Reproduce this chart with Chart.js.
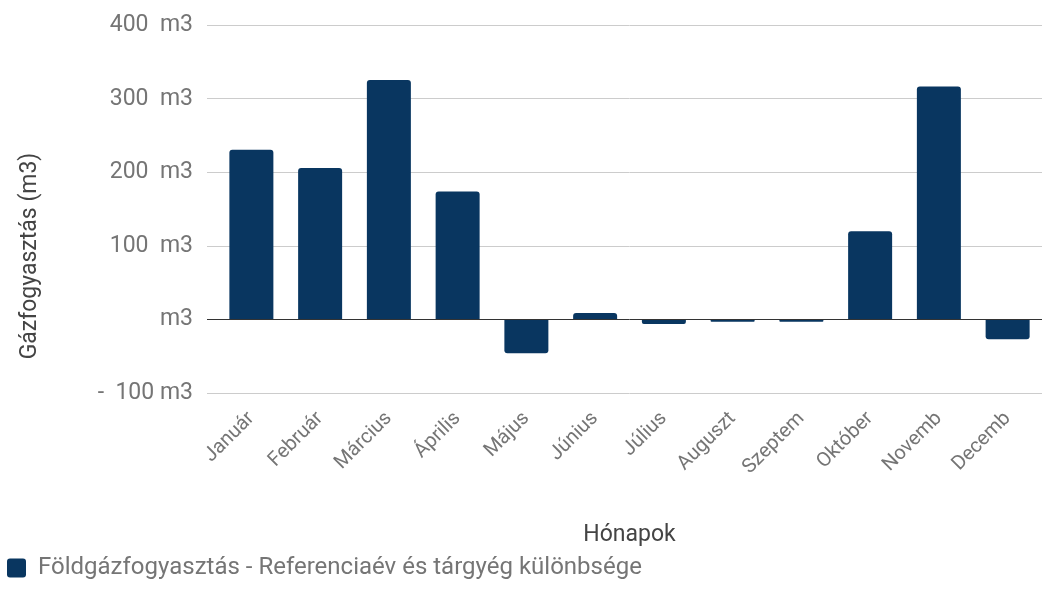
<!DOCTYPE html>
<html>
<head>
<meta charset="utf-8">
<script src="https://cdn.jsdelivr.net/npm/chart.js@4/dist/chart.umd.min.js"></script>
<style>
  html, body { margin: 0; padding: 0; background: #fff; }
  #wrap { width: 1042px; height: 590px; position: relative; }
</style>
</head>
<body>
<div id="wrap"><canvas id="chart"></canvas></div>
<script>
// ---------- 数据 ----------
const months = ['Január','Február','Március','Április','Május','Június','Július','Auguszt','Szeptem','Október','Novemb','Decemb'];
const diffM3 = [231, 206, 326, 174, -46, 9, -6, -3, -3, 120, 317, -27];
const yTicks = [-100, 0, 100, 200, 300, 400];
const seriesName = 'Földgázfogyasztás - Referenciaév és tárgyég különbsége';
const yTitle = 'Gázfogyasztás (m3)';
const xTitle = 'Hónapok';

const grey = '#757575';
const dark = '#444';
const font = (size) => ({ family: 'Roboto, "Noto Sans", sans-serif', size });

// 会计格式的刻度: "400  m3", "m3", "-  100 m3"
const fmtTick = (v) => {
  if (v === 0) return 'm3';
  if (v < 0) return '-  ' + Math.abs(v) + ' m3';
  return v + '  m3';
};

// y 轴标题：Google 图表里它比绘图区中心偏下一点，这里自己画
const yTitlePlugin = {
  id: 'yTitle',
  afterDraw(chart) {
    const ctx = chart.ctx;
    ctx.save();
    ctx.translate(30, 256);
    ctx.rotate(-Math.PI / 2);
    ctx.font = '23px Roboto, "Noto Sans", sans-serif';
    ctx.fillStyle = dark;
    ctx.textAlign = 'center';
    ctx.textBaseline = 'middle';
    ctx.fillText(yTitle, 0, 0);
    ctx.restore();
  }
};

new Chart(document.getElementById('chart'), {
  type: 'bar',
  data: {
    labels: months,
    datasets: [{
      label: seriesName,
      data: diffM3,
      backgroundColor: '#093660',
      borderRadius: 3,
      categoryPercentage: 0.64,
      barPercentage: 1
    }]
  },
  options: {
    responsive: true,
    maintainAspectRatio: false,
    animation: false,
    layout: { padding: { top: 25, right: 0, bottom: 0, left: 0 } },
    plugins: {
      legend: {
        position: 'bottom',
        align: 'start',
        labels: {
          color: grey,
          font: font(24),
          boxWidth: 19,
          boxHeight: 19,
          padding: 7,
          useBorderRadius: true,
          borderRadius: 3
        }
      },
      tooltip: { enabled: true }
    },
    scales: {
      x: {
        offset: true,
        grid: { display: false, drawTicks: false },
        border: { display: false },
        ticks: { color: grey, font: font(20), minRotation: 45, maxRotation: 45, padding: 14 },
        title: { display: true, text: xTitle, color: dark, font: font(23), padding: { top: 4, bottom: 0 } },
        afterFit(axis) { axis.height = 156; }
      },
      y: {
        min: -100,
        max: 400,
        afterBuildTicks(axis) { axis.ticks = yTicks.map(v => ({ value: v })); },
        grid: {
          color: (ctx) => ctx.tick && ctx.tick.value === 0 ? '#333' : '#ccc',
          tickLength: 10
        },
        border: { display: false },
        ticks: { color: grey, font: { ...font(23), lineHeight: 1 }, padding: 14, callback: fmtTick },
        afterFit(axis) { axis.width = 217; }
      }
    }
  },
  plugins: [yTitlePlugin]
});
</script>
</body>
</html>
